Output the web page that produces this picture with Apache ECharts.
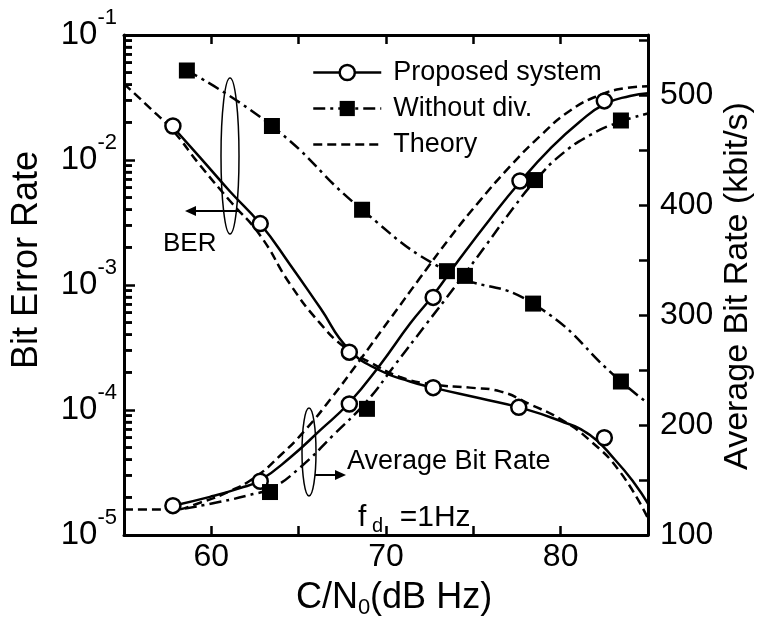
<!DOCTYPE html>
<html><head><meta charset="utf-8">
<script src="https://cdn.jsdelivr.net/npm/echarts@6/dist/echarts.min.js"></script>
<style>html,body{margin:0;padding:0;background:#fff}#c{width:757px;height:624px}</style>
</head><body><div id="c"></div>
<script>
// ---- data ----
const xTickLabels = [60, 70, 80];
const berDecadeLabels = [-5, -4, -3, -2, -1];
const rateTickLabels = [100, 200, 300, 400, 500];
const berMinorMantissas = [2, 3, 4, 5, 6, 7, 8, 9];
const berMinorDecades = [1e-5, 1e-4, 1e-3, 1e-2];

// BER curves [C/N0, BER]
const proposedBerCurve = [[57.75,1.87e-2],[59.35,1.05e-2],[61.07,5.6e-3],[62.79,3.1e-3],[64.5,1.46e-3],[66.22,6.6e-4],[67.88,3.05e-4],[69.66,2.07e-4],[71.37,1.69e-4],[72.69,1.51e-4],[75.38,1.24e-4],[77.61,1.05e-4],[79.96,8.2e-5],[81.68,6.3e-5],[83.11,4.0e-5],[84.26,2.55e-5],[85,1.78e-5]];
const theoryBerCurve = [[55,4.07e-2],[56.49,2.6e-2],[57.75,1.75e-2],[59.35,9.1e-3],[61.07,4.7e-3],[62.79,2.5e-3],[64.5,1.02e-3],[66.22,4.95e-4],[67.65,3.16e-4],[69.08,2.41e-4],[70.8,1.84e-4],[72.69,1.6e-4],[74.81,1.51e-4],[76.53,1.41e-4],[78.24,1.11e-4],[79.96,8.5e-5],[81.68,5.7e-5],[83.4,3.2e-5],[85,1.36e-5]];
const withoutDivBerCurve = [[58.6,5.2e-2],[63.47,1.87e-2],[68.63,4.0e-3],[73.49,1.29e-3],[78.42,7.1e-4],[83.45,1.69e-4],[85,1.13e-4]];
// BER markers
const proposedBerPoints = [[57.8,1.87e-2],[62.8,3.1e-3],[67.9,2.9e-4],[72.7,1.51e-4],[77.6,1.05e-4],[82.5,6.0e-5]];
const withoutDivBerPoints = [[58.6,5.2e-2],[63.47,1.87e-2],[68.63,4.0e-3],[73.49,1.29e-3],[78.42,7.1e-4],[83.45,1.69e-4]];

// Average bit rate curves [C/N0, kbit/s]
const proposedRateCurve = [[57.81,126.7],[59.92,134.7],[61.64,142.7],[62.79,149.8],[64.5,170.3],[66.22,195.2],[67.88,220.1],[69.66,254.8],[71.37,292.2],[72.69,318.0],[74.24,351.8],[75.95,387.4],[77.67,421.2],[79.39,451.4],[81.11,476.3],[82.54,492.3],[83.97,499.5],[85,502.1]];
const theoryRateCurve = [[55,123.1],[57.75,123.1],[59.35,129.4],[61.07,140.0],[62.5,152.5],[63.93,172.1],[65.36,195.2],[66.91,225.4],[68.51,259.3],[70.23,296.6],[71.95,334.0],[73.66,370.5],[75.38,404.3],[77.1,435.4],[78.82,463.0],[80.53,486.1],[82.25,500.4],[83.68,506.6],[85,508.4]];
const withoutDivRateCurve = [[58.49,124.0],[60.5,130.2],[62.21,136.5],[63.47,142.7],[65.08,161.4],[66.97,190.7],[68.91,221.9],[70.51,254.8],[72.23,290.4],[73.95,326.0],[75.67,362.5],[77.39,399.8],[78.53,422.1],[79.96,445.2],[81.68,463.9],[83.45,476.3],[85,483.5]];
// bit rate markers
const proposedRatePoints = [[57.8,126.7],[62.8,148.9],[67.9,219.2],[72.7,316.2],[77.67,422.1],[82.5,495.0]];
const withoutDivRatePoints = [[63.36,139.1],[68.91,214.8],[74.52,335.8],[78.53,423.0],[83.45,477.2]];

// ---- chart ----
const FONT = 'Liberation Sans';
const BLACK = '#000';
const DASH = [9, 5];
const DASHDOT = [12, 5, 3, 5];
const minorTickValues = [];
berMinorDecades.forEach(d => berMinorMantissas.forEach(m => minorTickValues.push(m * d)));

const chart = echarts.init(document.getElementById('c'), null, {renderer: 'canvas'});

function curve(name, data, yIdx, dash, symbol) {
  return {
    type: 'line', name: name, data: data, xAxisIndex: 0, yAxisIndex: yIdx,
    smooth: 0.5, showSymbol: false, symbol: symbol, z: 3,
    lineStyle: {color: BLACK, width: 2.5, type: dash},
    itemStyle: {color: symbol === 'circle' ? '#fff' : BLACK, borderColor: BLACK, borderWidth: 2.5},
    emphasis: {disabled: true}, silent: true
  };
}
function marks(name, data, yIdx, symbol) {
  return {
    type: 'scatter', name: name, data: data, xAxisIndex: 0, yAxisIndex: yIdx,
    symbol: symbol, symbolSize: symbol === 'circle' ? 15 : 16, z: 5,
    itemStyle: symbol === 'circle' ? {color: '#fff', borderColor: BLACK, borderWidth: 2.5, opacity: 1} : {color: BLACK, opacity: 1},
    emphasis: {disabled: true}, silent: true
  };
}

const baseGraphic = [
  {type: 'text', x: 27, y: 260, rotation: Math.PI / 2,
    style: {text: 'Bit Error Rate', fontSize: 36, fontFamily: FONT, fill: BLACK, align: 'center', verticalAlign: 'middle'}},
  {type: 'text', x: 738, y: 286, rotation: Math.PI / 2,
    style: {text: 'Average Bit Rate (kbit/s)', fontSize: 34, fontFamily: FONT, fill: BLACK, align: 'center', verticalAlign: 'middle'}},
  {type: 'ellipse', shape: {cx: 230, cy: 156, rx: 9, ry: 78}, style: {fill: 'none', stroke: BLACK, lineWidth: 1.5}, z: 20},
  {type: 'line', shape: {x1: 240, y1: 211, x2: 192, y2: 211}, style: {stroke: BLACK, lineWidth: 2}, z: 20},
  {type: 'polygon', shape: {points: [[185, 211], [196, 206], [196, 216]]}, style: {fill: BLACK}, z: 20},
  {type: 'text', x: 163, y: 244, style: {text: 'BER', fontSize: 26, fontFamily: FONT, fill: BLACK, align: 'left', verticalAlign: 'middle'}, z: 20},
  {type: 'ellipse', shape: {cx: 309, cy: 452, rx: 7, ry: 44}, style: {fill: 'none', stroke: BLACK, lineWidth: 1.5}, z: 20},
  {type: 'line', shape: {x1: 315, y1: 475, x2: 339, y2: 475}, style: {stroke: BLACK, lineWidth: 2}, z: 20},
  {type: 'polygon', shape: {points: [[346, 475], [335, 470], [335, 480]]}, style: {fill: BLACK}, z: 20},
  {type: 'text', x: 347, y: 462, style: {text: 'Average Bit Rate', fontSize: 27, fontFamily: FONT, fill: BLACK, align: 'left', verticalAlign: 'middle'}, z: 20},
  {type: 'text', x: 358, y: 518, style: {
    text: '{a|f}{s| d}{a|  =1Hz}', align: 'left', verticalAlign: 'middle',
    rich: {
      a: {fontSize: 30, fontFamily: FONT, fill: BLACK, lineHeight: 36},
      s: {fontSize: 20, fontFamily: FONT, fill: BLACK, lineHeight: 22, verticalAlign: 'bottom'}
    }}, z: 20}
];

const option = {
  animation: false,
  backgroundColor: '#fff',
  grid: {left: 124, right: 109, top: 35, bottom: 77, containLabel: false},
  xAxis: [{
    type: 'value', position: 'bottom', min: 55, max: 85, interval: 5,
    axisLine: {lineStyle: {color: BLACK, width: 3}},
    axisTick: {inside: true, length: 9, lineStyle: {color: BLACK, width: 2.5}},
    splitLine: {show: false},
    axisLabel: {margin: 6, color: BLACK, fontSize: 32, fontFamily: FONT,
      formatter: v => xTickLabels.indexOf(v) >= 0 ? String(v) : ''},
    name: '{a|C/N}{s|0}{a|(dB Hz)}', nameLocation: 'middle', nameGap: 42,
    nameTextStyle: {padding: [0, 0, 0, 16], rich: {
      a: {fontSize: 36, fontFamily: FONT, color: BLACK, lineHeight: 42},
      s: {fontSize: 22, fontFamily: FONT, color: BLACK, lineHeight: 25, verticalAlign: 'bottom'}
    }}
  }, {
    type: 'value', position: 'top', min: 55, max: 85, interval: 5,
    axisLine: {lineStyle: {color: BLACK, width: 3}},
    axisTick: {inside: true, length: 9, lineStyle: {color: BLACK, width: 2.5}},
    axisLabel: {show: false}, splitLine: {show: false}
  }],
  yAxis: [{
    type: 'log', logBase: 10, min: 1e-5, max: 1e-1, position: 'left',
    axisLine: {show: true, lineStyle: {color: BLACK, width: 3}},
    axisTick: {show: true, inside: true, length: 11, lineStyle: {color: BLACK, width: 2.5}},
    minorTick: {show: true, splitNumber: 9, length: 8, lineStyle: {color: BLACK, width: 2.5}},
    splitLine: {show: false}, minorSplitLine: {show: false},
    axisLabel: {margin: 7, color: BLACK, fontFamily: FONT,
      formatter: v => {
        const e = Math.round(Math.log10(v));
        return berDecadeLabels.indexOf(e) >= 0 ? '{b|10}{s|' + e + '}' : '';
      },
      rich: {
        b: {fontSize: 33, fontFamily: FONT, color: BLACK, lineHeight: 56},
        s: {fontSize: 22, fontFamily: FONT, color: BLACK, lineHeight: 22, verticalAlign: 'top'}
      }
    }
  }, {
    type: 'value', min: 100, max: 555, interval: 50, position: 'right',
    axisLine: {show: true, lineStyle: {color: BLACK, width: 3}},
    axisTick: {show: true, inside: true, length: 9, lineStyle: {color: BLACK, width: 2.5}},
    splitLine: {show: false},
    axisLabel: {margin: 12, color: BLACK, fontSize: 32, fontFamily: FONT,
      formatter: v => rateTickLabels.indexOf(v) >= 0 ? String(v) : ''}
  }],
  legend: {
    orient: 'vertical', left: 312, top: 55, padding: 0, itemWidth: 68, itemHeight: 19, itemGap: 1,
    selectedMode: false,
    textStyle: {fontSize: 27, fontFamily: FONT, color: BLACK, lineHeight: 35, padding: [0, 0, 0, 7]},
    data: [
      {name: 'Proposed system', itemStyle: {color: '#fff', borderColor: BLACK, borderWidth: 2.5}, lineStyle: {color: BLACK, width: 2.5, type: 'solid'}},
      {name: 'Without div.', itemStyle: {color: BLACK, borderColor: BLACK, borderWidth: 0}, lineStyle: {color: BLACK, width: 2.5, type: DASHDOT}},
      {name: 'Theory', itemStyle: {opacity: 0}, lineStyle: {color: BLACK, width: 2.5, type: DASH}}
    ]
  },
  series: [
    curve('Proposed system', proposedBerCurve, 0, 'solid', 'circle'),
    curve('Proposed system', proposedRateCurve, 1, 'solid', 'circle'),
    curve('Without div.', withoutDivBerCurve, 0, DASHDOT, 'rect'),
    curve('Without div.', withoutDivRateCurve, 1, DASHDOT, 'rect'),
    curve('Theory', theoryBerCurve, 0, DASH, 'none'),
    curve('Theory', theoryRateCurve, 1, DASH, 'none'),
    marks('pBer', proposedBerPoints, 0, 'circle'),
    marks('pRate', proposedRatePoints, 1, 'circle'),
    marks('wBer', withoutDivBerPoints, 0, 'rect'),
    marks('wRate', withoutDivRatePoints, 1, 'rect')
  ],
  graphic: baseGraphic
};
chart.setOption(option);

// extra safety: minor ticks of the log axis placed through the axis' own scale
const minorGraphic = [];
const axisX = chart.convertToPixel({xAxisIndex: 0}, 55);
minorTickValues.forEach((v, i) => {
  const py = chart.convertToPixel({yAxisIndex: 0}, v);
  if (typeof py === 'number' && isFinite(py) && typeof axisX === 'number' && isFinite(axisX)) {
    minorGraphic.push({type: 'line', id: 'minor' + i, shape: {x1: axisX, y1: py, x2: axisX + 8, y2: py},
      style: {stroke: BLACK, lineWidth: 2.5}, z: 40, silent: true});
  }
});
if (minorGraphic.length) {
  chart.setOption({graphic: baseGraphic.concat(minorGraphic)}, {replaceMerge: ['graphic']});
}
</script></body></html>
